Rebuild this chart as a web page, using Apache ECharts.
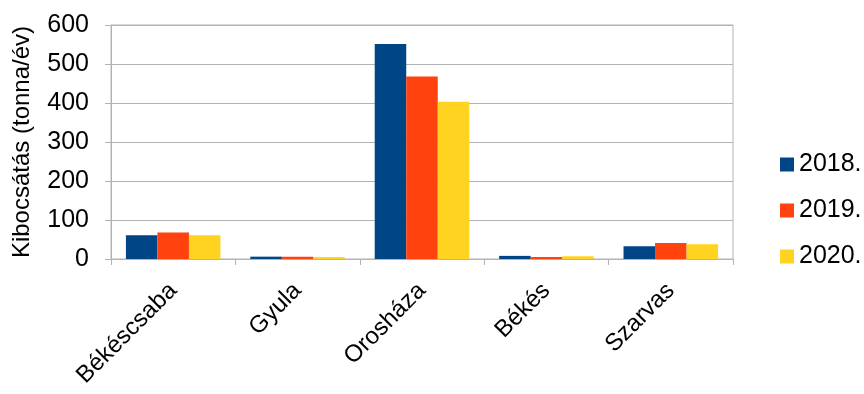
<!DOCTYPE html>
<html><head><meta charset="utf-8">
<script src="https://cdn.jsdelivr.net/npm/echarts@6/dist/echarts.min.js"></script>
<style>html,body{margin:0;padding:0;background:#fff}#c{width:864px;height:394px}</style>
</head><body><div id="c"></div>
<script>
const categories = ['Békéscsaba', 'Gyula', 'Orosháza', 'Békés', 'Szarvas'];
const years = ['2018.', '2019.', '2020.'];
const v2018 = [61, 6, 551, 8, 33];
const v2019 = [68, 6, 468, 5, 41];
const v2020 = [61, 5, 403, 7, 38];
const yTicks = [0, 100, 200, 300, 400, 500, 600];
const colors = ['#004586', '#ff420e', '#ffd320'];
const FONT = '"Liberation Sans", Arial, sans-serif';

const chart = echarts.init(document.getElementById('c'), null, {renderer: 'canvas'});
const series = [v2018, v2019, v2020].map((d, i) => ({
  name: years[i], type: 'bar', data: d, barGap: '0%', barCategoryGap: '24%',
  itemStyle: {color: colors[i]}
}));
chart.setOption({
  animation: false,
  textStyle: {fontFamily: FONT, color: '#000'},
  grid: {left: 111, right: 131, top: 25, bottom: 135, containLabel: false,
         show: true, borderColor: '#b3b3b3', borderWidth: 1},
  legend: {
    orient: 'vertical', left: 775, top: 147, itemWidth: 14, itemHeight: 14, itemGap: 21,
    icon: 'rect',
    textStyle: {fontSize: 25, color: '#000', fontFamily: FONT, lineHeight: 25, padding: [0,0,0,0]},
    data: years
  },
  xAxis: {
    type: 'category', data: categories,
    axisLine: {lineStyle: {color: '#b3b3b3', width: 1}},
    axisTick: {show: true, length: 6, lineStyle: {color: '#b3b3b3'}},
    axisLabel: {rotate: 45, fontSize: 24, color: '#000', fontFamily: FONT, margin: 28, interval: 0}
  },
  yAxis: {
    type: 'value', min: yTicks[0], max: yTicks[yTicks.length - 1], interval: 100,
    name: 'Kibocsátás (tonna/év)', nameLocation: 'middle', nameGap: 77,
    nameTextStyle: {fontSize: 24, color: '#000', fontFamily: FONT},
    axisLine: {show: true, lineStyle: {color: '#b3b3b3', width: 1}},
    axisTick: {show: true, length: 6, lineStyle: {color: '#b3b3b3'}},
    axisLabel: {fontSize: 25, color: '#000', fontFamily: FONT, margin: 22},
    splitLine: {lineStyle: {color: '#b3b3b3', width: 1}}
  },
  series: series
});
</script></body></html>
